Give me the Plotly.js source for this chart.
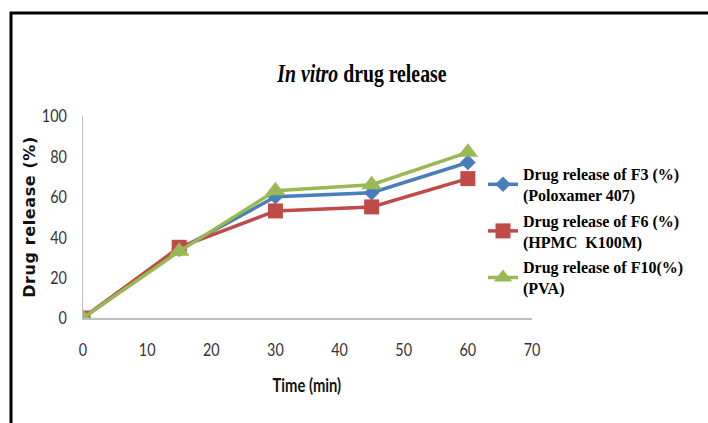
<!DOCTYPE html>
<html>
<head>
<meta charset="utf-8">
<script src="https://cdn.plot.ly/plotly-3.0.1.min.js"></script>
<style>
  html, body { margin: 0; padding: 0; background: #fff; overflow: hidden; }
  #chart { width: 708px; height: 423px; }
</style>
</head>
<body>
<div id="chart"></div>
<script>
// Sampling times (min)
const timeMin = [0, 15, 30, 45, 60];

// Cumulative drug release (%) per formulation
const releaseF3 = [0, 34, 60, 62, 77];   // Poloxamer 407
const releaseF6 = [0, 35, 53, 55, 69];   // HPMC K100M
const releaseF10 = [0, 33, 63, 66, 82];  // PVA

const seriesNames = [
  '<b>Drug release of F3 (%)</b><br><b>(Poloxamer 407)</b>',
  '<b>Drug release of F6 (%)</b><br><b>(HPMC  K100M)</b>',
  '<b>Drug release of F10(%)</b><br><b>(PVA)</b>'
];

const xTicks = [0, 10, 20, 30, 40, 50, 60, 70];
const yTicks = [0, 20, 40, 60, 80, 100];

const sans = 'Lato, Open Sans, sans-serif';

const traces = [
  {
    x: timeMin, y: releaseF3, name: seriesNames[0], legendgroup: 'f3',
    type: 'scatter', mode: 'lines+markers',
    line: { color: '#4A7EBB', width: 3.5 },
    marker: { symbol: 'diamond', size: 12, color: '#4A7EBB' }
  },
  {
    x: timeMin, y: releaseF6, name: seriesNames[1], legendgroup: 'f6',
    type: 'scatter', mode: 'lines+markers',
    line: { color: '#BE4B48', width: 3.5 },
    marker: { symbol: 'square', size: 15, color: '#BE4B48' }
  },
  {
    x: timeMin, y: releaseF10, name: seriesNames[2], legendgroup: 'f10',
    type: 'scatter', mode: 'lines+markers',
    line: { color: '#98B954', width: 3.5 },
    marker: { symbol: 'triangle-up', size: 18, color: '#98B954' }
  }
];

// Plot area: x 83..532 px, y 116..318 px
const plotL = 83, plotR = 532, plotT = 116, plotB = 318;
const pw = plotR - plotL, ph = plotB - plotT;
const px = v => (v - plotL) / pw;
const py = v => (plotB - v) / ph;

const layout = {
  width: 708,
  height: 423,
  margin: { l: plotL, r: 708 - plotR, t: plotT, b: 423 - plotB, pad: 0 },
  paper_bgcolor: '#ffffff',
  plot_bgcolor: '#ffffff',
  showlegend: true,
  title: {
    text: '<b><i>In vitro</i> drug release</b>',
    font: { family: 'Liberation Serif, Times New Roman, serif', size: 26, color: '#000' },
    x: 362 / 708, xanchor: 'center', xref: 'container',
    y: 1 - 73 / 423, yanchor: 'middle', yref: 'container'
  },
  xaxis: {
    range: [0, 70],
    tickvals: xTicks,
    ticktext: xTicks.map(String),
    showgrid: false,
    zeroline: false,
    showline: true,
    linecolor: '#BFBFBF',
    linewidth: 1.5,
    ticks: 'outside',
    ticklen: 15,
    tickcolor: 'rgba(0,0,0,0)',
    tickfont: { family: sans, size: 18, color: '#333' },
    fixedrange: true
  },
  yaxis: {
    range: [0, 100],
    tickvals: yTicks,
    ticktext: yTicks.map(String),
    showgrid: false,
    zeroline: false,
    showline: true,
    linecolor: '#BFBFBF',
    linewidth: 1.5,
    ticks: 'outside',
    ticklen: 11,
    tickcolor: 'rgba(0,0,0,0)',
    tickfont: { family: sans, size: 18, color: '#333' },
    fixedrange: true
  },
  annotations: [
    {
      text: '<b>Time (min)</b>',
      xref: 'paper', yref: 'paper',
      x: px(307), y: py(385), xanchor: 'center', yanchor: 'middle',
      showarrow: false,
      font: { family: sans, size: 18, color: '#111' }
    },
    {
      text: '<b>Drug release (%)</b>',
      xref: 'paper', yref: 'paper',
      x: px(29), y: py(217), xanchor: 'center', yanchor: 'middle',
      textangle: -90,
      showarrow: false,
      font: { family: 'DejaVu Sans, Verdana, sans-serif', size: 16, color: '#111' }
    }
  ],
  legend: {
    x: px(483), xanchor: 'left',
    y: py(157), yanchor: 'top',
    bgcolor: 'rgba(0,0,0,0)',
    borderwidth: 0,
    font: { family: 'Liberation Serif, Times New Roman, serif', size: 16, color: '#000' },
    itemwidth: 30,
    tracegroupgap: 2
  },
  shapes: [
    {
      type: 'rect', xref: 'paper', yref: 'paper',
      x0: px(11), x1: px(740), y0: py(460), y1: py(13),
      line: { color: '#000', width: 3 },
      fillcolor: 'rgba(0,0,0,0)',
      layer: 'above'
    }
  ]
};

// Narrow a text element horizontally about its own anchor point
function squeeze(el, s) {
  const bb = el.getBBox();
  const anchor = el.getAttribute('text-anchor') || 'start';
  const ax = anchor === 'middle' ? bb.x + bb.width / 2
           : anchor === 'end' ? bb.x + bb.width : bb.x;
  const prev = el.getAttribute('transform') || '';
  el.setAttribute('transform', `${prev} translate(${ax},0) scale(${s},1) translate(${-ax},0)`);
}

Plotly.newPlot('chart', traces, layout, { staticPlot: true, displayModeBar: false }).then(gd => {
  const title = gd.querySelector('.gtitle');
  if (title) squeeze(title, 0.76);
  gd.querySelectorAll('g.xtick text, g.ytick text').forEach(t => squeeze(t, 0.8));
  const annTexts = gd.querySelectorAll('.annotation-text-g text');
  if (annTexts[0]) squeeze(annTexts[0], 0.82);
  if (annTexts[1]) annTexts[1].style.letterSpacing = '0.6px';
});
</script>
</body>
</html>
